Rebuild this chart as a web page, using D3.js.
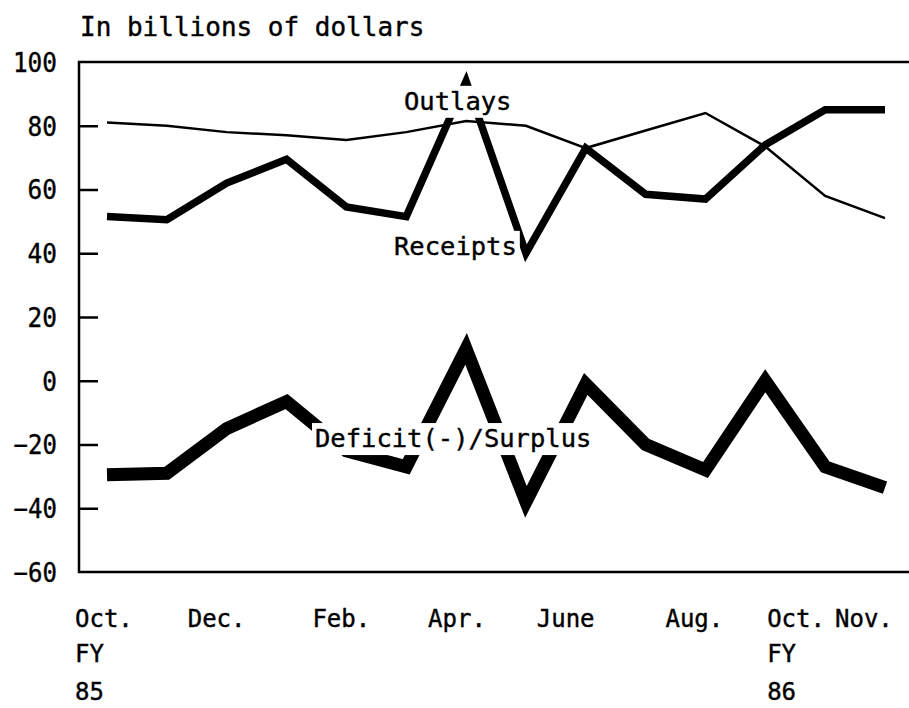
<!DOCTYPE html>
<html>
<head>
<meta charset="utf-8">
<script src="https://cdn.jsdelivr.net/npm/d3@7"></script>
<style>
  body { margin: 0; background: #fff; }
  text { font-family: "DejaVu Sans Mono", monospace; fill: #000; stroke: #000; stroke-width: 0.4px; }
</style>
</head>
<body>
<div class="item"></div>
<script>
// 数据：1985年10月 ~ 1986年11月，单位：十亿美元
var months = ["Oct85", "Nov85", "Dec85", "Jan86", "Feb86", "Mar86", "Apr86",
              "May86", "Jun86", "Jul86", "Aug86", "Sep86", "Oct86", "Nov86"];
var outlays  = [81, 80, 78, 77, 75.5, 78, 81.5, 80, 73, 78.5, 84, 73.5, 58, 51];
var receipts = [51.5, 50.5, 62, 69.5, 54.5, 51.5, 94, 40, 73, 58.5, 57, 74, 85, 85];
var deficit  = [-29.5, -29, -15, -6.5, -22, -27, 10, -38, -1, -20, -28, 0, -27, -33.5];

var yTicks = [100, 80, 60, 40, 20, 0, -20, -40, -60];
var xLabelMonths = ["Oct85", "Dec85", "Feb86", "Apr86", "Jun86", "Aug86", "Oct86", "Nov86"];
var xLabelText   = ["Oct.", "Dec.", "Feb.", "Apr.", "June", "Aug.", "Oct.", "Nov."];

var width = 909;
var height = 708;

var svg = d3.select(".item")
    .append("svg")
    .attr("width", width)
    .attr("height", height);

var x = d3.scalePoint()
    .domain(months)
    .range([107, 885]);

var y = d3.scaleLinear()
    .domain([-60, 100])
    .range([572, 62]);

// 单位标题
svg.append("text")
    .attr("x", 80)
    .attr("y", 36)
    .style("font-size", "26px")
    .text("In billions of dollars");

// 框线（左、上、下）
svg.append("path")
    .attr("d", "M" + (width + 2) + "," + y(100) + "H79V" + y(-60) + "H" + (width + 2))
    .attr("fill", "none")
    .attr("stroke", "#000")
    .attr("stroke-width", 2.5);

// y轴
var yAxis = d3.axisRight(y)
    .tickValues(yTicks.filter(function(d){ return d > -60 && d < 100; }))
    .tickSize(19)
    .tickFormat("");

svg.append("g")
    .attr("transform", "translate(79,0)")
    .call(yAxis)
    .call(function(g){
        g.select(".domain").remove();
        g.selectAll("line").attr("stroke-width", 2.5);
    });

svg.selectAll(".ylab")
    .data(yTicks)
    .enter()
    .append("text")
    .attr("class", "ylab")
    .attr("x", 57)
    .attr("y", function(d){ return y(d); })
    .attr("dy", "0.37em")
    .attr("text-anchor", "end")
    .style("font-size", "27px")
    .attr("textLength", function(d){ return String(Math.abs(d)).length * 14.7 + (d < 0 ? 14 : 0); })
    .attr("lengthAdjust", "spacingAndGlyphs")
    .text(function(d){ return d < 0 ? "\u2212" + Math.abs(d) : d; });

// x轴标签
var labelShift = [-32, -39, -34, -38, -49, -40, -58, -50];
svg.selectAll(".xlab")
    .data(xLabelMonths)
    .enter()
    .append("text")
    .attr("class", "xlab")
    .attr("x", function(d, i){ return x(d) + labelShift[i]; })
    .attr("y", 627)
    .style("font-size", "24px")
    .text(function(d, i){ return xLabelText[i]; });

[["FY", 662], ["85", 700]].forEach(function(r){
    svg.append("text").attr("x", x("Oct85") - 32).attr("y", r[1])
        .style("font-size", "24px").text(r[0]);
    svg.append("text").attr("x", x("Oct86") - 58).attr("y", r[1])
        .style("font-size", "24px").text(r[0] === "85" ? "86" : r[0]);
});

// 折线
function drawLine(values, w) {
    var line = d3.line()
        .x(function(d, i){ return x(months[i]); })
        .y(function(d){ return y(d); });
    svg.append("path")
        .datum(values)
        .attr("d", line)
        .attr("fill", "none")
        .attr("stroke", "#000")
        .attr("stroke-width", w)
        .attr("stroke-linejoin", "miter")
        .attr("stroke-miterlimit", 10);
}

drawLine(outlays, 2.5);
drawLine(receipts, 7.5);
drawLine(deficit, 13);

// 标注（带白底）
function label(txt, mx, v) {
    var t = svg.append("text")
        .attr("x", mx)
        .attr("y", y(v))
        .style("font-size", "25.5px")
        .text(txt);
    var b = t.node().getBBox();
    svg.insert("rect", function(){ return t.node(); })
        .attr("x", b.x - 3)
        .attr("y", y(v) - 24)
        .attr("width", b.width + 6)
        .attr("height", 32)
        .attr("fill", "#fff");
}

label("Outlays", 404, 85);
label("Receipts", 394, 39.5);
label("Deficit(-)/Surplus", 315, -20.8);
</script>
</body>
</html>
